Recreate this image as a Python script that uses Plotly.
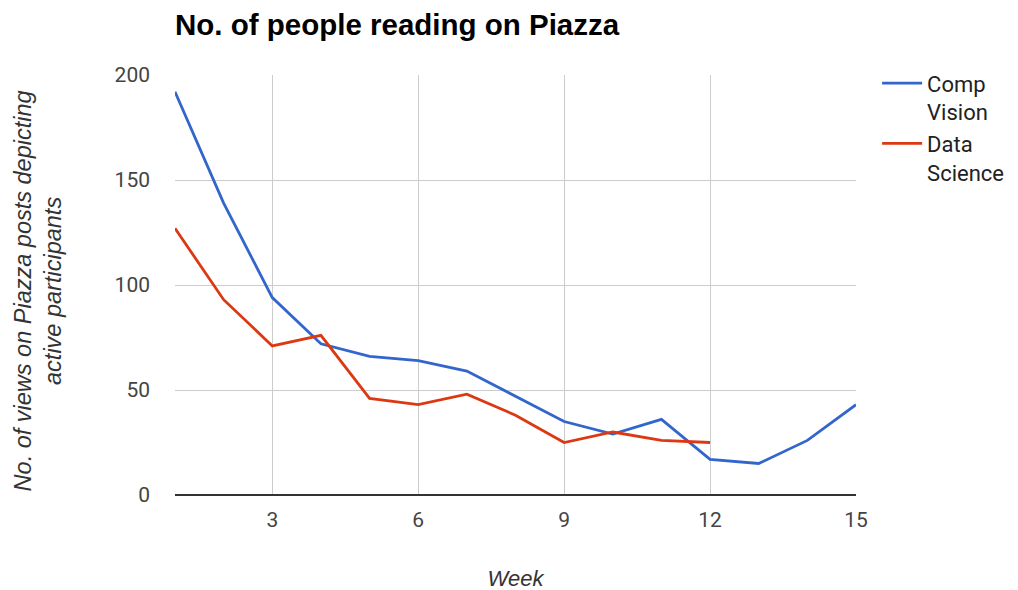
import plotly.graph_objects as go

weeks_cv = list(range(1, 16))
comp_vision = [192, 139, 94, 72, 66, 64, 59, 47, 35, 29, 36, 17, 15, 26, 43]
weeks_ds = list(range(1, 13))
data_science = [127, 93, 71, 76, 46, 43, 48, 38, 25, 30, 26, 25]
x_ticks = [3, 6, 9, 12, 15]
y_ticks = [0, 50, 100, 150, 200]

ARIAL = "Liberation Sans, Arial, sans-serif"
ROBOTO = "Roboto, Liberation Sans, sans-serif"

fig = go.Figure()
fig.add_trace(go.Scatter(x=weeks_cv, y=comp_vision, mode="lines", name="Comp<br>Vision",
                         line=dict(color="#3366cc", width=2.8)))
fig.add_trace(go.Scatter(x=weeks_ds, y=data_science, mode="lines", name="Data<br>Science",
                         line=dict(color="#dc3912", width=2.8)))

fig.update_layout(
    width=1018, height=590,
    margin=dict(l=167, r=170, t=67, b=103),
    paper_bgcolor="white", plot_bgcolor="white",
    font=dict(family=ROBOTO, size=21, color="#444"),
    title=dict(text="<b>No. of people reading on Piazza</b>", x=167/1018, xanchor="left",
               y=1 - 17/590, yanchor="middle", font=dict(family=ARIAL, size=29.5, color="black")),
    legend=dict(x=1.031, y=1.030, xanchor="left", yanchor="top", valign="top",
                font=dict(family=ROBOTO, size=22, color="#222"), tracegroupgap=12,
                itemwidth=40),
    showlegend=True,
    annotations=[dict(text="<i>No. of views on Piazza posts depicting<br>active participants</i>",
                      xref="paper", yref="paper", x=-0.2004, y=0.486, xanchor="center", yanchor="middle",
                      textangle=-90, showarrow=False,
                      font=dict(family=ARIAL, size=23.5, color="#333"))],
)
fig.update_xaxes(range=[1, 15], tickvals=x_ticks, showgrid=True, gridcolor="#cccccc", gridwidth=1,
                 zeroline=False, showline=False, ticks="", ticklabelstandoff=10,
                 tickfont=dict(family=ROBOTO, size=21, color="#444"),
                 title=dict(text="<i>Week</i>", standoff=39, font=dict(family=ARIAL, size=22, color="#333")))
fig.update_yaxes(range=[0, 200], tickvals=y_ticks, showgrid=True, gridcolor="#cccccc", gridwidth=1,
                 zeroline=True, zerolinecolor="#333", zerolinewidth=1.5, showline=False, ticks="",
                 ticklabelstandoff=24,
                 tickfont=dict(family=ROBOTO, size=21, color="#444"))

fig.write_html("out.html")
